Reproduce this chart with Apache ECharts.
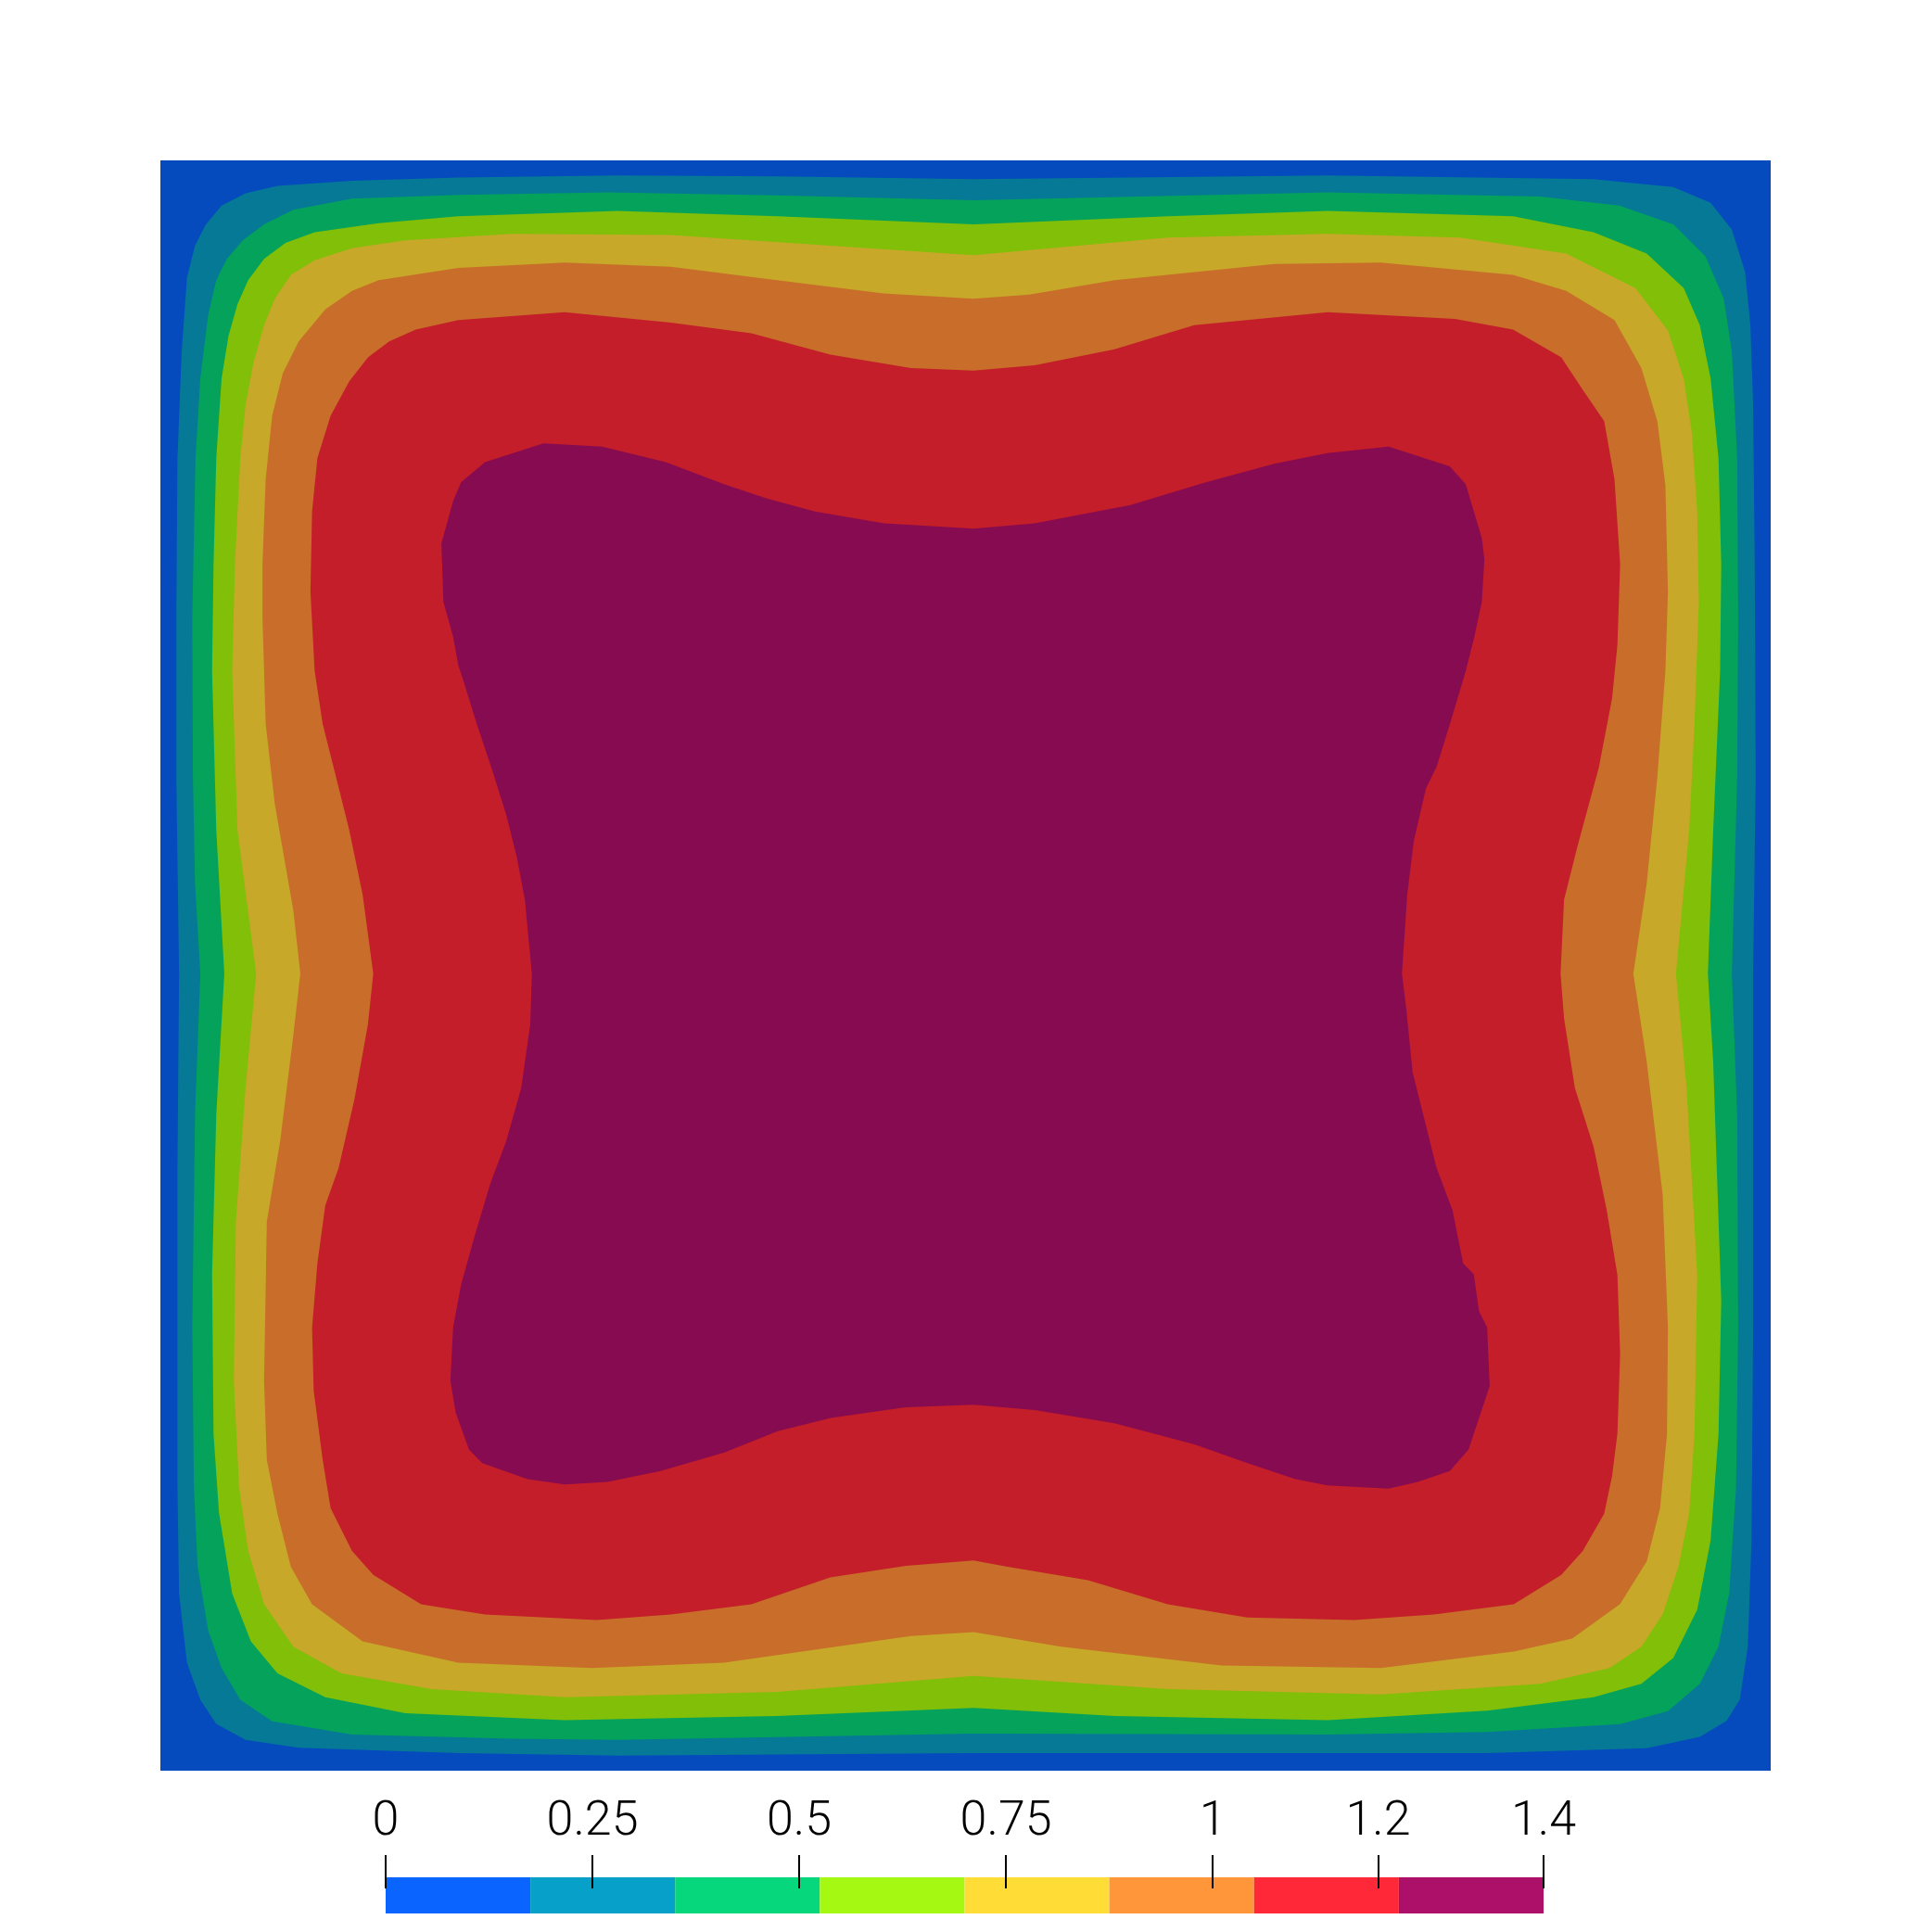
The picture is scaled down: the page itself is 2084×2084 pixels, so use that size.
<!DOCTYPE html>
<html>
<head>
<meta charset="utf-8">
<script src="https://cdn.jsdelivr.net/npm/echarts@6/dist/echarts.min.js"></script>
<style>
html,body{margin:0;padding:0;background:#fff;}
#chart{width:2084px;height:2084px;}
</style>
</head>
<body>
<div id="chart"></div>
<script>
// contour levels (band boundaries of the colour bar)
const levels = [0, 0.175, 0.35, 0.525, 0.7, 0.875, 1.05, 1.225, 1.4];
const tickValues = [0, 0.25, 0.5, 0.75, 1, 1.2, 1.4];
const tickLabels = ['0', '0.25', '0.5', '0.75', '1', '1.2', '1.4'];

// domain: x 0..100 (left->right), y 0..100 (measured from the top)
const domain = [[0,0],[100,0],[100,100],[0,100]];

// region where value > 0.175
const contour1 = [
[1.16,50.5],[0.99,38.3],[0.99,28.4],[1.06,18.5],[1.32,11.9],[1.65,7.3],[2.15,5.3],[2.81,4.0],[3.80,2.8],[5.29,2.05],[7.27,1.59],[11.9,1.26],[18.5,1.06],[28.4,0.93],[38.3,0.99],[50.5,1.16],
[72.5,0.93],[89.0,1.16],[93.95,1.65],[96.27,2.64],[97.59,4.30],[98.41,6.94],[98.74,10.24],[98.91,15.2],[99.01,25.1],[99.07,38.3],[98.91,50.5],
[98.91,72.5],[98.81,85.7],[98.58,92.3],[98.08,95.6],[97.26,96.9],[95.6,97.9],[92.3,98.6],[82.4,98.9],[50.5,98.9],
[28.4,99.07],[18.5,98.9],[8.59,98.58],[5.29,98.08],[3.47,97.09],[2.48,95.6],[1.65,93.29],[1.16,89.0],[1.06,82.4],[1.06,62.6]
];
// region where value > 0.35
const contour2 = [
[2.48,50.5],[2.15,44.9],[2.02,38.3],[1.98,28.4],[2.18,18.5],[2.48,13.55],[2.97,9.58],[3.47,7.44],[4.13,6.11],[5.12,4.96],[6.44,3.97],[8.26,3.07],[11.9,2.38],[18.5,2.15],[27.8,1.98],[38.3,2.18],[50.5,2.48],
[72.5,1.98],[85.7,2.25],[90.6,2.81],[93.95,3.97],[95.94,5.95],[97.09,8.59],[97.59,11.9],[97.92,18.5],[97.98,28.4],[97.92,38.3],[97.59,50.5],
[97.92,59.3],[97.98,72.5],[97.85,82.4],[97.42,89.0],[96.76,92.3],[95.6,94.6],[93.62,96.3],[90.65,97.1],[82.4,97.6],[72.5,97.75],[50.5,97.7],
[41.6,97.85],[28.4,98.08],[21.8,98.02],[11.9,97.75],[6.94,96.93],[4.96,95.6],[3.80,93.62],[2.97,91.3],[2.31,87.3],[2.08,82.4],[1.98,72.5],[2.15,59.25]
];
// region where value > 0.525
const contour3 = [
[3.97,50.5],[3.47,41.6],[3.21,31.7],[3.30,25.1],[3.47,18.5],[3.80,13.55],[4.23,10.9],[4.79,8.92],[5.45,7.44],[6.44,6.11],[7.77,5.12],[9.58,4.46],[13.55,3.90],[18.5,3.47],[28.4,3.14],[38.3,3.47],[50.5,3.97],
[62.6,3.47],[72.5,3.14],[84.0,3.47],[89.0,4.46],[92.3,5.78],[94.6,7.93],[95.6,10.24],[96.27,13.55],[96.76,18.5],[96.93,25.1],[96.86,31.7],[96.43,41.6],[96.1,50.5],
[96.43,56.0],[96.93,70.8],[96.76,79.1],[96.27,85.7],[95.44,90.0],[93.95,93.0],[91.97,94.6],[89.0,95.44],[82.4,96.27],[72.5,96.86],[59.25,96.6],[50.5,96.1],
[38.3,96.6],[25.1,96.86],[15.2,96.43],[10.24,95.44],[7.27,93.95],[5.62,91.97],[4.46,89.0],[3.64,84.0],[3.30,79.1],[3.21,69.2],[3.47,59.25]
];
// region where value > 0.7
const contour4 = [
[5.95,50.5],[4.79,41.6],[4.46,31.7],[4.63,25.1],[4.96,18.5],[5.29,15.2],[5.78,12.56],[6.44,10.24],[7.11,8.59],[8.10,7.11],[9.58,6.21],[11.9,5.45],[15.2,4.96],[21.8,4.56],[31.7,4.63],[41.6,5.29],[50.5,5.88],
[62.6,4.79],[72.5,4.56],[80.7,4.79],[87.3,5.78],[91.6,7.93],[93.62,10.57],[94.6,13.55],[95.1,16.85],[95.44,21.8],[95.54,27.4],[95.27,35.0],[94.94,41.6],[94.12,50.5],
[94.78,57.6],[95.44,69.2],[95.27,79.1],[94.94,84.0],[94.28,87.3],[93.29,90.3],[91.97,92.3],[89.99,93.62],[85.7,94.6],[75.8,95.27],[62.6,94.94],[50.5,94.12],
[38.3,95.1],[25.1,95.44],[16.85,94.94],[11.24,93.95],[8.26,92.3],[6.44,89.65],[5.45,86.35],[4.89,82.4],[4.56,75.8],[4.69,65.9],[5.29,57.6]
];
// region where value > 0.875
const contour5 = [
[8.69,50.5],[8.26,46.6],[7.11,40.0],[6.54,35.0],[6.34,28.4],[6.34,25.1],[6.54,19.8],[6.94,15.86],[7.60,13.22],[8.59,11.24],[10.24,9.25],[11.9,8.10],[13.55,7.44],[18.5,6.68],[25.1,6.34],[31.7,6.61],[38.3,7.44],[44.9,8.26],[50.5,8.59],
[53.97,8.33],[59.25,7.44],[69.2,6.44],[75.8,6.34],[84.0,7.11],[87.3,8.10],[90.3,9.91],[91.97,12.89],[92.96,16.19],[93.46,20.16],[93.62,26.8],[93.46,31.7],[92.96,38.3],[92.3,44.9],[91.47,50.5],
[92.3,55.95],[93.29,64.2],[93.62,72.5],[93.56,79.1],[93.13,83.7],[92.3,87.0],[90.65,89.65],[87.67,91.8],[84.04,92.6],[75.8,93.62],[65.9,93.46],[55.95,92.3],[50.5,91.4],
[46.6,91.64],[35.0,93.29],[26.8,93.62],[18.5,93.29],[12.56,91.97],[9.42,89.66],[8.10,87.34],[7.27,84.04],[6.61,80.7],[6.44,75.8],[6.61,65.9],[7.44,60.9],[8.26,54.3]
];
// region where value > 1.05
const contour6 = [
[13.22,50.5],[12.56,45.6],[11.73,41.6],[10.91,38.3],[10.08,35.0],[9.58,31.7],[9.32,26.8],[9.42,21.8],[9.75,18.5],[10.57,15.86],[11.73,13.72],[12.89,12.23],[14.21,11.24],[15.86,10.51],[18.5,9.91],[25.1,9.42],[31.7,10.08],[36.7,10.74],[41.6,12.06],[46.6,12.89],[50.5,13.05],
[54.3,12.72],[59.25,11.73],[64.2,10.24],[72.5,9.42],[80.4,9.85],[84.0,10.51],[87.0,12.23],[88.3,14.21],[89.66,16.19],[90.3,19.8],[90.65,25.1],[90.48,30.1],[90.15,33.4],[89.33,37.7],[88.0,42.6],[87.17,45.9],[86.95,50.5],
[87.17,53.3],[87.84,57.6],[89.0,61.24],[89.82,65.2],[90.48,69.2],[90.65,74.13],[90.48,79.08],[90.15,81.7],[89.66,84.04],[88.33,86.35],[87.0,87.84],[84.04,89.66],[79.08,90.3],[74.13,90.65],[67.5,90.48],[62.56,89.66],[57.6,88.17],[52.6,87.34],[50.5,86.95],
[46.3,87.27],[41.6,88.0],[36.7,89.66],[31.7,90.3],[27.1,90.65],[20.16,90.3],[16.19,89.66],[13.22,87.84],[11.9,86.35],[10.57,83.7],[10.08,80.7],[9.52,76.4],[9.42,72.5],[9.75,68.5],[10.24,64.9],[11.07,62.56],[12.06,58.26],[12.89,53.64]
];
// region where value > 1.225
const contour7 = [
[23.07,50.5],[22.64,45.94],[22.14,43.3],[21.48,40.65],[20.65,38.0],[19.66,35.03],[18.84,32.39],[18.51,31.39],[18.18,29.58],[17.58,27.43],[17.45,23.79],[18.18,21.15],[18.67,19.99],[20.16,18.74],[23.79,17.58],[27.43,17.78],[31.39,18.74],[35.0,20.1],[37.67,21.0],[40.65,21.8],[44.94,22.54],[50.5,22.87],
[54.3,22.54],[60.25,21.4],[64.87,20.0],[69.17,18.84],[72.47,18.18],[76.27,17.78],[80.07,19.0],[81.06,20.1],[82.06,23.46],[82.22,24.79],[82.06,27.43],[81.56,29.74],[81.06,31.72],[80.07,35.03],[79.25,37.67],[78.59,39.0],[77.83,42.3],[77.43,45.6],[77.1,50.5],
[77.36,52.6],[77.76,56.6],[78.42,59.25],[79.25,62.56],[80.24,65.2],[80.9,68.5],[81.56,69.17],[81.89,71.48],[82.39,72.47],[82.55,76.11],[81.89,78.09],[81.23,80.07],[80.07,81.39],[78.09,82.06],[76.27,82.48],[72.47,82.28],[70.49,81.89],[67.51,80.9],[64.21,79.74],[59.25,78.42],[54.3,77.6],[50.5,77.27],
[46.27,77.43],[41.64,78.09],[38.34,78.92],[35.03,80.24],[31.06,81.39],[27.76,82.06],[25.12,82.22],[22.8,81.89],[19.99,80.9],[19.17,80.07],[18.34,77.76],[18.01,75.78],[18.18,72.47],[18.67,69.83],[19.5,66.85],[20.49,63.55],[21.48,60.9],[22.41,57.6],[22.97,53.64]
];

const regions = [domain, contour1, contour2, contour3, contour4, contour5, contour6, contour7];
// shaded colours in the field, bright colours in the bar
const fieldColors = ['#054bbe', '#067996', '#05a25c', '#81bf08', '#c7a829', '#c86e2a', '#c41e2a', '#870b50'];
const barColors = ['#0a64ff', '#06a0c8', '#06d67c', '#a4f812', '#ffdd36', '#ff963a', '#ff2838', '#ac1068'];

const chart = echarts.init(document.getElementById('chart'), null, {renderer: 'canvas'});

// colour bar grid spans from the tick tops (y=2001) to the bar bottom (y=2064);
// the coloured strip occupies the lower part of it
const BAR_TOP = 24 / 63;

const option = {
  backgroundColor: '#ffffff',
  animation: false,
  grid: [
    {left: 173, top: 173, width: 1737, height: 1737},
    {left: 416, top: 2001, width: 1249, height: 63}
  ],
  xAxis: [
    {gridIndex: 0, type: 'value', min: 0, max: 100, show: false},
    {gridIndex: 1, type: 'value', min: 0, max: 1.4, position: 'top', z: 10,
     axisLine: {show: false},
     splitLine: {show: false},
     axisTick: {show: true, inside: true, customValues: tickValues, length: 36, lineStyle: {color: '#000', width: 2}},
     axisLabel: {show: true, customValues: tickValues, margin: 9,
       formatter: function (v) { const i = tickValues.indexOf(v); return i >= 0 ? tickLabels[i] : ''; },
       color: '#000', fontSize: 52, fontFamily: 'Roboto', fontWeight: 300}
    }
  ],
  yAxis: [
    {gridIndex: 0, type: 'value', min: 0, max: 100, inverse: true, show: false},
    {gridIndex: 1, type: 'value', min: 0, max: 1, inverse: true, show: false}
  ],
  series: [
    {
      type: 'custom',
      xAxisIndex: 0, yAxisIndex: 0,
      coordinateSystem: 'cartesian2d',
      data: regions.map(function (r, i) { return [i]; }),
      encode: {x: -1, y: -1},
      renderItem: function (params, api) {
        const ring = regions[params.dataIndex];
        const pts = ring.map(function (p) { return api.coord(p); });
        return {type: 'polygon', shape: {points: pts}, style: {fill: fieldColors[params.dataIndex], stroke: null}};
      },
      silent: true
    },
    {
      type: 'custom',
      xAxisIndex: 1, yAxisIndex: 1,
      coordinateSystem: 'cartesian2d',
      z: 1,
      data: barColors.map(function (c, i) { return [levels[i], levels[i + 1]]; }),
      encode: {x: [0, 1]},
      renderItem: function (params, api) {
        const a = api.coord([api.value(0), BAR_TOP]);
        const b = api.coord([api.value(1), 1]);
        return {type: 'rect', shape: {x: a[0], y: a[1], width: b[0] - a[0], height: b[1] - a[1]},
                style: {fill: barColors[params.dataIndex]}};
      },
      silent: true
    }
  ]
};
chart.setOption(option);
</script>
</body>
</html>
